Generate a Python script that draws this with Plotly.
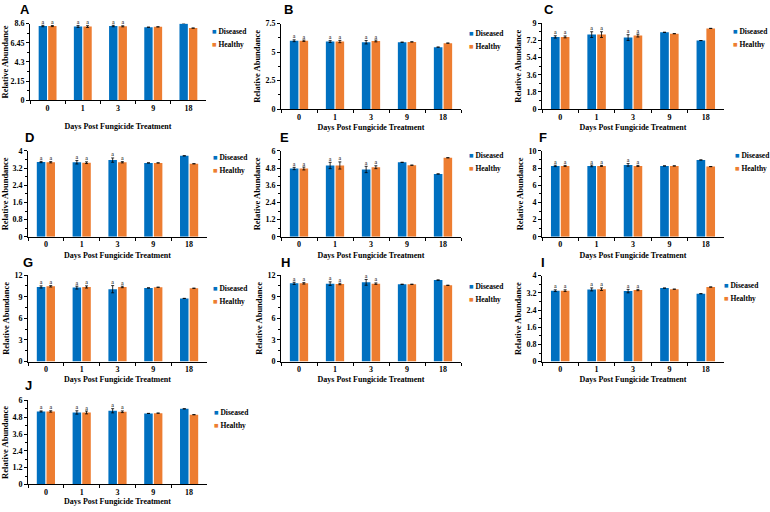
import plotly.graph_objects as go

# ---------------- data ----------------
days = ["0", "1", "3", "9", "18"]
series_names = ["Diseased", "Healthy"]
panel_labels = ["A", "B", "C", "D", "E", "F", "G", "H", "I", "J"]
sig_letters = ["a", "a", "a", "", ""]

A_dis = [8.33, 8.28, 8.33, 8.20, 8.62]
A_hea = [8.33, 8.27, 8.30, 8.24, 8.10]
A_dis_err = [0.08, 0.10, 0.08, None, None]
A_hea_err = [0.06, 0.10, 0.06, None, None]
A_ticks = [0, 2.15, 4.3, 6.45, 8.6]

B_dis = [6.00, 5.93, 5.87, 5.87, 5.44]
B_hea = [6.00, 5.93, 5.98, 5.90, 5.79]
B_dis_err = [0.08, 0.08, 0.15, None, None]
B_hea_err = [0.06, 0.10, 0.08, None, None]
B_ticks = [0, 2.5, 5, 7.5]

C_dis = [7.56, 7.80, 7.49, 8.04, 7.18]
C_hea = [7.56, 7.80, 7.70, 7.90, 8.45]
C_dis_err = [0.12, 0.30, 0.30, None, None]
C_hea_err = [0.10, 0.30, 0.15, None, None]
C_ticks = [0, 1.8, 3.6, 5.4, 7.2, 9]

D_dis = [3.48, 3.47, 3.57, 3.44, 3.77]
D_hea = [3.47, 3.45, 3.47, 3.44, 3.40]
D_dis_err = [0.03, 0.08, 0.10, None, None]
D_hea_err = [0.03, 0.04, 0.03, None, None]
D_ticks = [0, 0.8, 1.6, 2.4, 3.2, 4]

E_dis = [4.77, 4.98, 4.70, 5.20, 4.39]
E_hea = [4.77, 4.98, 4.86, 5.00, 5.52]
E_dis_err = [0.08, 0.22, 0.22, None, None]
E_hea_err = [0.10, 0.25, 0.10, None, None]
E_ticks = [0, 1.2, 2.4, 3.6, 4.8, 6]

F_dis = [8.25, 8.25, 8.37, 8.25, 8.94]
F_hea = [8.25, 8.25, 8.25, 8.25, 8.17]
F_dis_err = [0.08, 0.10, 0.15, None, None]
F_hea_err = [0.06, 0.06, 0.06, None, None]
F_ticks = [0, 2, 4, 6, 8, 10]

G_dis = [10.36, 10.27, 10.05, 10.23, 8.77]
G_hea = [10.45, 10.36, 10.36, 10.32, 10.18]
G_dis_err = [0.15, 0.20, 0.50, None, None]
G_hea_err = [0.10, 0.15, 0.10, None, None]
G_ticks = [0, 3, 6, 9, 12]

H_dis = [10.86, 10.82, 11.00, 10.73, 11.32]
H_hea = [10.86, 10.77, 10.82, 10.73, 10.59]
H_dis_err = [0.15, 0.25, 0.40, None, None]
H_hea_err = [0.10, 0.10, 0.10, None, None]
H_ticks = [0, 3, 6, 9, 12]

I_dis = [3.30, 3.36, 3.28, 3.42, 3.16]
I_hea = [3.30, 3.37, 3.33, 3.37, 3.47]
I_dis_err = [0.04, 0.07, 0.08, None, None]
I_hea_err = [0.04, 0.06, 0.03, None, None]
I_ticks = [0, 0.8, 1.6, 2.4, 3.2, 4]

J_dis = [5.21, 5.14, 5.26, 5.07, 5.40]
J_hea = [5.21, 5.14, 5.19, 5.09, 4.98]
J_dis_err = [0.04, 0.12, 0.15, None, None]
J_hea_err = [0.05, 0.10, 0.06, None, None]
J_ticks = [0, 1.2, 2.4, 3.6, 4.8, 6]

panels = [
    (A_dis, A_hea, A_dis_err, A_hea_err, A_ticks),
    (B_dis, B_hea, B_dis_err, B_hea_err, B_ticks),
    (C_dis, C_hea, C_dis_err, C_hea_err, C_ticks),
    (D_dis, D_hea, D_dis_err, D_hea_err, D_ticks),
    (E_dis, E_hea, E_dis_err, E_hea_err, E_ticks),
    (F_dis, F_hea, F_dis_err, F_hea_err, F_ticks),
    (G_dis, G_hea, G_dis_err, G_hea_err, G_ticks),
    (H_dis, H_hea, H_dis_err, H_hea_err, H_ticks),
    (I_dis, I_hea, I_dis_err, I_hea_err, I_ticks),
    (J_dis, J_hea, J_dis_err, J_hea_err, J_ticks),
]

# ---------------- layout (pixel geometry) ----------------
W, H = 770, 512
BLUE = "#0070C0"
ORANGE = "#ED7D31"
SERIF = "Liberation Serif, Times New Roman, serif"
SANS = "Liberation Sans, Arial, sans-serif"

# x0, x1, y_top, y_bottom of plot area
geom = [
    (30, 206, 20, 98),
    (281, 461, 20, 107),
    (542, 724, 19.5, 107),
    (28, 207, 149.5, 237),
    (281, 461, 149.5, 237),
    (542, 724, 149.5, 237),
    (28, 207, 276, 364),
    (281, 461, 276, 364),
    (542, 724, 276.5, 364),
    (28, 207, 403.5, 489),
]
xstand = [11, 3, 3, 3, 3, 3, 3, 3, 3, 0]
letter_pos = [(25, 6), (288, 6), (549, 6), (29, 136), (284, 136), (543, 136),
              (28, 263), (285, 263), (543, 263), (28, 388)]
legend_pos = [(210, 28.5, 41.5), (467, 30, 43), (731, 28.5, 41.5),
              (211, 156.5, 169), (467, 154.5, 167.5), (733, 154.5, 167.5),
              (211, 290, 303), (467, 288, 301), (722, 287, 300),
              (212, 416, 429)]


def px(x):
    return x / W


def py(y):
    return 1 - y / H


fig = go.Figure()
annotations = []
layout = {}

for i, (dis, hea, derr, herr, ticks) in enumerate(panels):
    n = "" if i == 0 else str(i + 1)
    xa, ya = "x" + n, "y" + n
    for k, (vals, errs, col, name) in enumerate(((dis, derr, BLUE, series_names[0]),
                                                 (hea, herr, ORANGE, series_names[1]))):
        fig.add_trace(go.Bar(
            x=days, y=vals, name=name, marker=dict(color=col, line=dict(width=0)),
            error_y=dict(type="data", array=errs, visible=True, color="black",
                         thickness=0.8, width=1.5),
            offsetgroup=str(k), showlegend=False, xaxis=xa, yaxis=ya,
        ))
        # significance letters sit on top of the error bars
        tops = [v + (e or 0) for v, e in zip(vals, errs)]
        fig.add_trace(go.Scatter(
            x=days, y=tops, mode="text", text=sig_letters, textposition="top center",
            textfont=dict(family=SERIF, size=6, color="black"),
            offsetgroup=str(k), cliponaxis=False, showlegend=False,
            hoverinfo="skip", xaxis=xa, yaxis=ya,
        ))
    x0, x1, yt, yb = geom[i]
    step = ticks[1] - ticks[0]
    layout["xaxis" + n] = dict(
        domain=[px(x0), px(x1)], anchor=ya, type="category",
        categoryorder="array", categoryarray=days,
        showline=True, linecolor="black", linewidth=1,
        ticks="outside", ticklen=3, tickcolor="black", tickson="boundaries",
        tickfont=dict(family=SERIF, size=8, color="black", weight="bold"),
        showgrid=False, zeroline=False,
        title=dict(text="Days Post Fungicide Treatment", standoff=xstand[i],
                   font=dict(family=SERIF, size=8, color="black", weight="bold")),
    )
    layout["yaxis" + n] = dict(
        domain=[py(yb), py(yt)], anchor=xa, range=[0, ticks[-1]],
        tickmode="array", tickvals=ticks, ticktext=[f"{t:g}" for t in ticks],
        showline=True, linecolor="black", linewidth=1,
        ticks="outside", ticklen=3, tickcolor="black",
        minor=dict(dtick=step / 2, tick0=0, ticks="outside", ticklen=2,
                   tickcolor="black", showgrid=False),
        tickfont=dict(family=SERIF, size=8, color="black", weight="bold"),
        showgrid=False, zeroline=False,
        title=dict(text="Relative Abundance", standoff=3,
                   font=dict(family=SERIF, size=8.5, color="black", weight="bold")),
    )
    lx, ly = letter_pos[i]
    annotations.append(dict(text=panel_labels[i], x=px(lx), y=py(ly), xref="paper",
                            yref="paper", xanchor="center", yanchor="middle",
                            showarrow=False,
                            font=dict(family=SANS, size=13, color="black", weight="bold")))
    gx, gy1, gy2 = legend_pos[i]
    for gy, col, name in ((gy1, BLUE, series_names[0]), (gy2, ORANGE, series_names[1])):
        annotations.append(dict(
            text=f"<span style='color:{col}'>■</span> {name}",
            x=px(gx), y=py(gy), xref="paper", yref="paper", xanchor="left",
            yanchor="middle", showarrow=False,
            font=dict(family=SERIF, size=7.5, color="black", weight="bold")))

fig.update_layout(
    width=W, height=H, margin=dict(l=0, r=0, t=0, b=0),
    paper_bgcolor="white", plot_bgcolor="white",
    barmode="group", bargap=0.46, bargroupgap=0.12,
    scattermode="group", scattergap=0.46,
    showlegend=False, annotations=annotations, **layout,
)

fig.write_html("out.html", config={"displayModeBar": False},
               post_script="document.body.style.margin='0px';"
                           "document.body.style.overflow='hidden';")
